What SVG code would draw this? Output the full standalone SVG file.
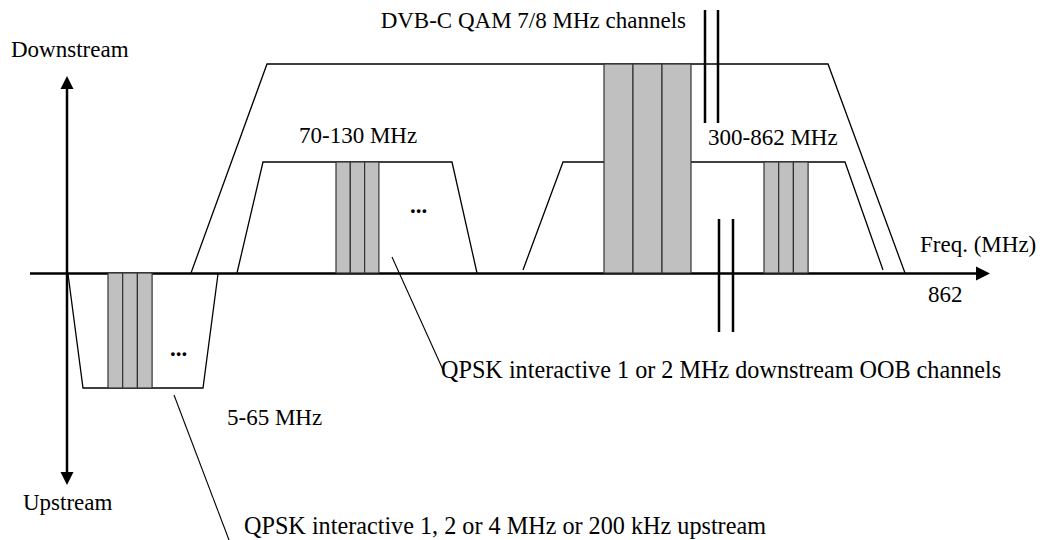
<svg xmlns="http://www.w3.org/2000/svg" width="1040" height="540" viewBox="0 0 1040 540">
<style>
text{font-family:"Liberation Serif","Times New Roman",serif;font-size:23px;fill:#000}
.dots{font-weight:bold}
.wide{font-size:24.2px}
.band{fill:none;stroke:#000;stroke-width:1.3}
.ch{fill:#c0c0c0;stroke:#333;stroke-width:1.2}
.axis{stroke:#000;stroke-width:2.5;fill:none}
.brk{stroke:#000;stroke-width:2.5}
.lead{stroke:#000;stroke-width:1.1;fill:none}
</style>
<rect width="1040" height="540" fill="#fff"/>
<g id="axes">
<line class="axis" x1="30" y1="273.5" x2="978" y2="273.5"/>
<polygon points="976,266.5 990,273.5 976,280.5" fill="#000"/>
<line class="axis" x1="67" y1="86" x2="67" y2="476"/>
<polygon points="60.5,89 67,76 73.5,89" fill="#000"/>
<polygon points="60.5,472 67,485 73.5,472" fill="#000"/>
<text x="11" y="57">Downstream</text>
<text x="23" y="510">Upstream</text>
<text x="920" y="252">Freq. (MHz)</text>
<text x="928" y="302">862</text>
</g>
<g id="upstream-band">
<polyline class="band" points="68,274 83,388 203,388 218,274"/>
<rect class="ch" x="108" y="273" width="14.7" height="115"/>
<rect class="ch" x="122.7" y="273" width="14.7" height="115"/>
<rect class="ch" x="137.4" y="273" width="14.7" height="115"/>
<text class="dots" x="170" y="356">...</text>
<text x="227" y="425">5-65 MHz</text>
</g>
<g id="dvbc-band">
<polyline class="band" points="191,273 267,64 828,64 905,273"/>
<text x="686" y="28" text-anchor="end">DVB-C QAM 7/8 MHz channels</text>
</g>
<g id="oob-band-low">
<polyline class="band" points="237,273 263,162 452,162 477,273"/>
<rect class="ch" x="336" y="162" width="14.3" height="111"/>
<rect class="ch" x="350.3" y="162" width="14.3" height="111"/>
<rect class="ch" x="364.6" y="162" width="14.3" height="111"/>
<text class="dots" x="410" y="213">...</text>
<text x="299" y="143">70-130 MHz</text>
</g>
<g id="oob-band-high">
<polyline class="band" points="523,270 563,162 845,162 883,270"/>
<rect class="ch" x="764" y="162" width="14.7" height="111"/>
<rect class="ch" x="778.7" y="162" width="14.7" height="111"/>
<rect class="ch" x="793.4" y="162" width="14.7" height="111"/>
<text x="708" y="145">300-862 MHz</text>
</g>
<g id="dvbc-channels">
<rect class="ch" x="604" y="64" width="29" height="209"/>
<rect class="ch" x="633" y="64" width="29" height="209"/>
<rect class="ch" x="662" y="64" width="29" height="209"/>
</g>
<g id="breaks">
<line class="brk" x1="705" y1="10" x2="705" y2="123"/>
<line class="brk" x1="718" y1="10" x2="718" y2="123"/>
<line class="brk" x1="719" y1="219" x2="719" y2="332"/>
<line class="brk" x1="733" y1="219" x2="733" y2="332"/>
</g>
<g id="connectors">
<line class="lead" x1="392" y1="257" x2="444" y2="372"/>
<line class="lead" x1="174" y1="395" x2="229" y2="540"/>
</g>
<g id="labels">
<text class="wide" x="441" y="378">QPSK interactive 1 or 2 MHz downstream OOB channels</text>
<text class="wide" x="244" y="534">QPSK interactive 1, 2 or 4 MHz or 200 kHz upstream</text>
</g>
</svg>
